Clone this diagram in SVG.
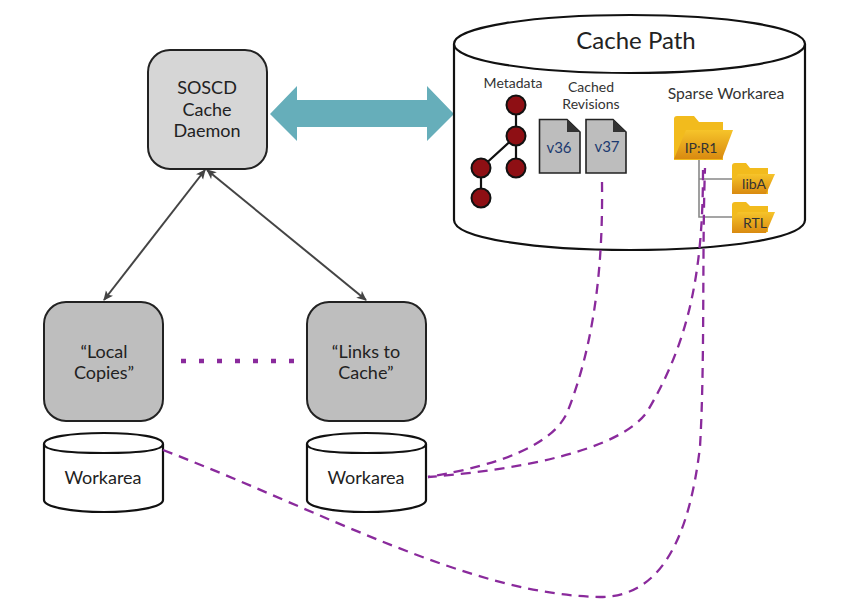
<svg xmlns="http://www.w3.org/2000/svg" width="850" height="606" viewBox="0 0 850 606">
<style>
text{font-family:Lato,"Liberation Sans",sans-serif;fill:#222;text-anchor:middle}
.box{stroke:#222;stroke-width:2}
.cyl{fill:#fff;stroke:#111;stroke-width:2.2}
.big{font-size:18px}
.sm{font-size:14px;fill:#333}
.dash{fill:none;stroke:#8a2a9c;stroke-width:2.3;stroke-dasharray:10 7}
.arr{fill:none;stroke:#444;stroke-width:2;marker-start:url(#a);marker-end:url(#a)}
.n{fill:#8e0f14;stroke:#111;stroke-width:2}
.t{stroke:#111;stroke-width:2.2;fill:none}
.doc{fill:#bdbdbd;stroke:#222;stroke-width:1.6}
.tree{stroke:#888;stroke-width:1.6;fill:none}
.fb{fill:#f2bb1d}
.ff{fill:url(#g)}
.v{font-size:15px;fill:#1c3a70}
.fl{fill:#333}
</style>
<defs>
<marker id="a" viewBox="0 0 10 10" refX="9" refY="5" markerWidth="10" markerHeight="10" markerUnits="userSpaceOnUse" orient="auto-start-reverse"><path d="M0 0.500L10 5L0 9.500L2.500 5Z" fill="#444"/></marker>
<linearGradient id="g" x1="0" y1="0" x2="0" y2="1"><stop offset="0" stop-color="#f6c42a"/><stop offset="1" stop-color="#d98a10"/></linearGradient>
<filter id="sh" x="-10%" y="-100%" width="120%" height="400%"><feGaussianBlur stdDeviation="1"/></filter>
</defs>

<g id="connectors">
<path class="arr" d="M205 170L104 300"/>
<path class="arr" d="M207 170L366 300"/>
<path d="M270 114L297 86V100H427V86L454 114L427 141V127H297V141Z" fill="#66aeba"/>
<path d="M181 362H295" fill="none" stroke="#d9b8dd" stroke-width="5" stroke-dasharray="5 13" filter="url(#sh)" transform="translate(0 2)"/>
<path d="M181 361H295" fill="none" stroke="#8a2a9c" stroke-width="4.500" stroke-dasharray="5 13"/>
</g>

<g id="cache-path">
<path class="cyl" d="M454 44C454 27 533 15 630 15S805 27 805 44V220C805 238 727 250 630 250S454 238 454 220Z"/>
<path class="cyl" fill="none" d="M454 44C454 61 533 73 630 73S805 61 805 44"/>
<text x="636" y="49" font-size="24">Cache Path</text>
<text class="sm" x="513" y="88">Metadata</text>
<text class="sm" x="591" y="92">Cached</text>
<text class="sm" x="591" y="109">Revisions</text>
<text class="sm" x="726" y="99" style="font-size:15.700px">Sparse Workarea</text>
<path class="t" d="M516 105V168M516 136L481 168V198"/>
<circle class="n" cx="516" cy="105" r="9.500"/>
<circle class="n" cx="516" cy="136" r="9.500"/>
<circle class="n" cx="516" cy="168" r="9.500"/>
<circle class="n" cx="481" cy="168" r="9.500"/>
<circle class="n" cx="481" cy="198" r="9.500"/>
<path class="doc" d="M539.500 119.500H567L580 132V173H539.500Z"/><path d="M567 119.500L580 132H567Z" fill="#333"/>
<path class="doc" d="M586 119.500H613L626 132V173H586Z"/><path d="M613 119.500L626 132H613Z" fill="#333"/>
<text class="v" x="559" y="153">v36</text>
<text class="v" x="607" y="152">v37</text>
<path class="tree" d="M699 158V217H732M699 179H732"/>
<path class="fb" d="M674 160V119Q674 116 677 116H694L699 122H723V160Z"/>
<path class="ff" d="M674 159L686 130H733L722 159Z"/>
<text class="fl" x="701" y="153" font-size="14">IP:R1</text>
<path class="fb" d="M732 194V166Q732 163 735 163H746L750 168H768V194Z"/>
<path class="ff" d="M732 194V183L738 174H775L766 194Z"/>
<text class="fl" x="754" y="189" font-size="14">libA</text>
<path class="fb" d="M732 232V205Q732 202 735 202H746L750 206H768V232Z"/>
<path class="ff" d="M732 233V221L738 212H775L766 233Z"/>
<text class="fl" x="755" y="228" font-size="14">RTL</text>
</g>

<g id="soscd">
<rect class="box" x="148" y="50" width="119" height="119" rx="22" fill="#d6d6d6"/>
<text class="big" x="207" y="94">SOSCD</text>
<text class="big" x="207" y="116">Cache</text>
<text class="big" x="207" y="137">Daemon</text>
</g>

<g id="local-copies">
<rect class="box" x="44" y="302" width="119" height="119" rx="22" fill="#bebebe"/>
<text class="big" x="104" y="358">“Local</text>
<text class="big" x="104" y="379">Copies”</text>
</g>

<g id="links-to-cache">
<rect class="box" x="307" y="302" width="119" height="119" rx="22" fill="#bebebe"/>
<text class="big" x="366" y="358">“Links to</text>
<text class="big" x="366" y="379">Cache”</text>
</g>

<g id="workarea-left">
<path class="cyl" d="M44 444C44 437 71 433 104 433S163 437 163 444V500C163 507 136 512 104 512S44 507 44 500Z"/>
<path class="cyl" fill="none" d="M44 444C44 451 71 453 104 453S163 451 163 444"/>
<text class="big" x="103" y="484">Workarea</text>
</g>

<g id="workarea-right">
<path class="cyl" d="M307 444C307 437 334 433 366 433S426 437 426 444V500C426 507 399 512 366 512S307 507 307 500Z"/>
<path class="cyl" fill="none" d="M307 444C307 451 334 453 366 453S426 451 426 444"/>
<text class="big" x="366" y="484">Workarea</text>
</g>

<g id="dashed-links">
<path class="dash" d="M602 182C603 260 596 340 567 413C552 445 500 465 428 477"/>
<path class="dash" d="M703 170C703 270 690 340 647 412C620 450 520 470 428 477"/>
<path class="dash" d="M163 450C320 510 470 595 600 597C665 597 690 530 700 447C705 360 702 250 705 168"/>
</g>
</svg>
